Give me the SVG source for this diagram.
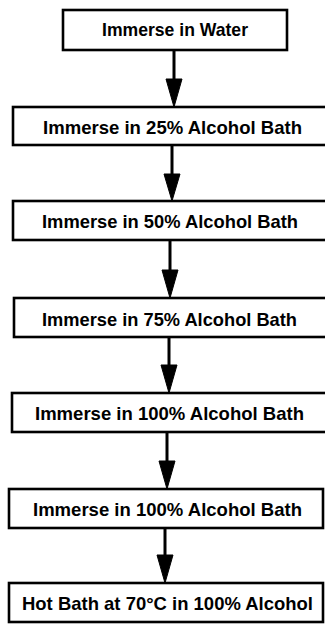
<svg xmlns="http://www.w3.org/2000/svg" width="325" height="625" viewBox="0 0 325 625">
<style>
.box{fill:#fff;stroke:#000;stroke-width:2.6}
.lbl{font-family:"Liberation Sans",Arial,Helvetica,sans-serif;font-weight:bold;font-size:19px;fill:#000;text-anchor:middle}
.conn{stroke:#000;stroke-width:3;fill:none}
.head{fill:#000;stroke:#000;stroke-width:1}
</style>
<rect width="325" height="625" fill="#fff"/>
<g id="connectors">
<line class="conn" x1="174" y1="50" x2="174" y2="85"/><polygon class="head" points="166,79 182,79 174,107"/>
<line class="conn" x1="172" y1="145" x2="172" y2="180"/><polygon class="head" points="164,174 180,174 172,201"/>
<line class="conn" x1="170" y1="240" x2="170" y2="276"/><polygon class="head" points="162,270 178,270 170,298"/>
<line class="conn" x1="169" y1="337" x2="169" y2="371"/><polygon class="head" points="161,365 177,365 169,393"/>
<line class="conn" x1="167" y1="432" x2="167" y2="467"/><polygon class="head" points="159,461 175,461 167,489"/>
<line class="conn" x1="165" y1="528" x2="165" y2="561"/><polygon class="head" points="157,555 173,555 165,583"/>
</g>
<g id="n1"><rect class="box" x="63" y="10" width="224" height="40"/><text class="lbl" x="175" y="36" textLength="146" lengthAdjust="spacingAndGlyphs">Immerse in Water</text></g>
<g id="n2"><rect class="box" x="13" y="107" width="320" height="38"/><text class="lbl" x="172.5" y="134" textLength="259" lengthAdjust="spacingAndGlyphs">Immerse in 25% Alcohol Bath</text></g>
<g id="n3"><rect class="box" x="13" y="201" width="320" height="39"/><text class="lbl" x="170" y="228" textLength="256" lengthAdjust="spacingAndGlyphs">Immerse in 50% Alcohol Bath</text></g>
<g id="n4"><rect class="box" x="14" y="298" width="320" height="39"/><text class="lbl" x="169.5" y="326" textLength="255" lengthAdjust="spacingAndGlyphs">Immerse in 75% Alcohol Bath</text></g>
<g id="n5"><rect class="box" x="12" y="393" width="320" height="39"/><text class="lbl" x="169.5" y="420" textLength="269" lengthAdjust="spacingAndGlyphs">Immerse in 100% Alcohol Bath</text></g>
<g id="n6"><rect class="box" x="9" y="489" width="314" height="39"/><text class="lbl" x="167.5" y="516" textLength="269" lengthAdjust="spacingAndGlyphs">Immerse in 100% Alcohol Bath</text></g>
<g id="n7"><rect class="box" x="9" y="583" width="314" height="39"/><text class="lbl" x="167.5" y="610" textLength="291" lengthAdjust="spacingAndGlyphs">Hot Bath at 70°C in 100% Alcohol</text></g>
</svg>
